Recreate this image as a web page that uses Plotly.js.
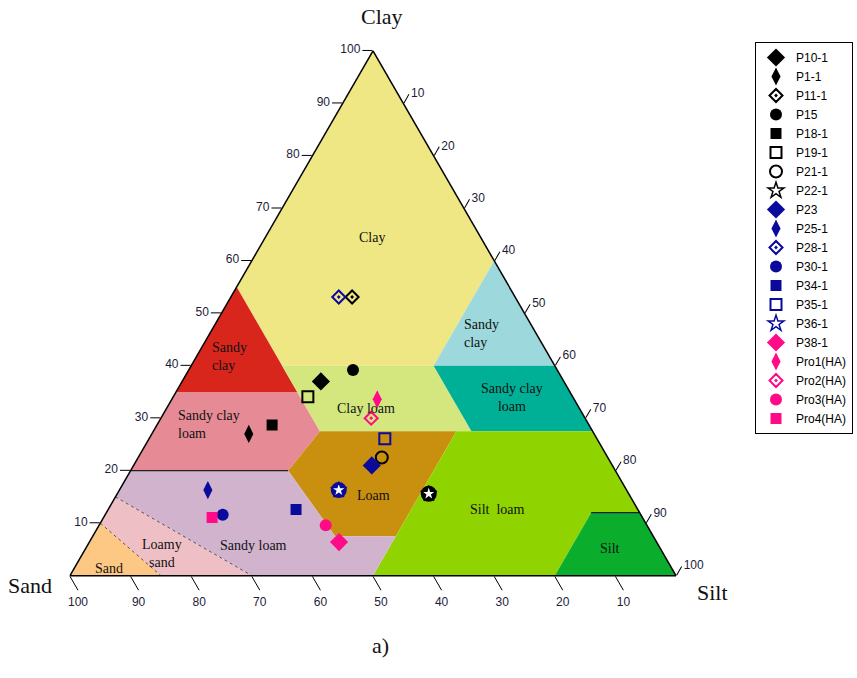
<!DOCTYPE html>
<html><head><meta charset="utf-8">
<script src="https://cdn.plot.ly/plotly-3.0.1.min.js"></script>
<style>html,body{margin:0;padding:0;background:#fff}#chart{width:857px;height:678px}</style>
</head><body><div id="chart"></div>
<script>
// ---- sample data (percent) ----
const samples = ['P10-1','P1-1','P11-1','P15','P18-1','P19-1','P21-1','P22-1','P23','P25-1','P28-1','P30-1','P34-1','P35-1','P36-1','P38-1','Pro1(HA)','Pro2(HA)','Pro3(HA)','Pro4(HA)'];
const clay = [37.0, 27.0, 53.1, 39.2, 28.7, 34.1, 22.5, 15.6, 21.0, 16.3, 53.1, 11.6, 12.6, 26.1, 16.3, 6.4, 33.6, 30.0, 9.6, 11.1];
const sand = [40.1, 57.0, 26.9, 33.7, 52.3, 43.7, 37.3, 33.0, 39.7, 69.1, 29.1, 69.0, 56.4, 35.0, 47.5, 52.4, 32.5, 35.3, 53.0, 71.0];
const silt = [22.9, 16.0, 20.0, 27.1, 19.0, 22.2, 40.2, 51.4, 39.3, 14.6, 17.8, 19.4, 31.0, 38.9, 36.2, 41.2, 33.9, 34.7, 37.4, 17.9];

// ---- texture classes: vertices [clay, sand, silt] ----
const regionNames = ['Clay','Sandy clay','Silty clay','Sandy clay loam','Clay loam','Silty clay loam','Loam','Silt loam','Silt','Sandy loam','Loamy sand','Sand'];
const regionVertices = [
  [[100,0,0],[55,45,0],[40,45,15],[40,20,40],[60,0,40]],
  [[55,45,0],[35,65,0],[35,45,20],[40,45,15]],
  [[60,0,40],[40,20,40],[40,0,60]],
  [[35,65,0],[20,80,0],[20,54,26],[27.5,45,27.5],[35,45,20]],
  [[40,45,15],[27.5,45,27.5],[27.5,20,52.5],[40,20,40]],
  [[40,20,40],[27.5,20,52.5],[27.5,0,72.5],[40,0,60]],
  [[27.5,45,27.5],[20,54,26],[7.5,52.5,40],[7.5,42.5,50],[27.5,22.5,50]],
  [[27.5,22.5,50],[0,50,50],[0,20,80],[12,8,80],[12,0,88],[27.5,0,72.5]],
  [[12,8,80],[0,20,80],[0,0,100],[12,0,88]],
  [[20,80,0],[20,54,26],[7.5,52.5,40],[7.5,42.5,50],[0,50,50],[0,70,30],[15,85,0]],
  [[15,85,0],[0,70,30],[0,85,15],[10,90,0]],
  [[10,90,0],[0,85,15],[0,100,0]]
];
// label texts as printed in the figure
const regionLabels = ['Clay','Sandy<br>clay','Sandy<br>clay','Sandy clay<br>loam','Clay loam','Sandy clay<br>loam','Loam','Silt  loam','Silt','Sandy loam','Loamy<br>sand','Sand'];
// boundary lines [clay, sand, silt]
const solidLines = [ [[20,80,0],[20,54,26]], [[12,8,80],[12,0,88]] ];
const dashedLines = [ [[10,90,0],[0,85,15]], [[15,85,0],[0,70,30]] ];
// axis titles
const axisTitles = ['Clay','Sand','Silt'];
const caption = 'a)';

const regionColors = ['#efe784','#d9261c','#9dd8dc','#e68b95','#d4e77f','#00b096','#c8900e','#8fd400','#0aad2c','#d1b3cd','#efbfc6','#fdc784'];
const labelPx = [[357,238,'left'],[210,356,'left'],[462,333,'left'],[176,424,'left'],[366,408,'center'],[512,398,'center'],[373,495,'center'],[497,510,'center'],[610,548,'center'],[253,545,'center'],[162,553,'center'],[109,568,'center']];

const symbols = ['diamond','diamond-tall','diamond-open-dot','circle','square','square-open','circle-open','star','diamond','diamond-tall','diamond-open-dot','circle','square','square-open','star','diamond','diamond-tall','diamond-open-dot','circle','square'];
const sizes =   [14, 13, 10, 12, 11, 11, 12, 12, 14, 13, 10, 12, 11, 11, 12, 14, 13, 10, 12, 11];
const BLACK = '#000000', NAVY = '#0a0a9c', PINK = '#ff0a87';
const colors = [BLACK,BLACK,BLACK,BLACK,BLACK,BLACK,BLACK,BLACK,NAVY,NAVY,NAVY,NAVY,NAVY,NAVY,NAVY,PINK,PINK,PINK,PINK,PINK];

const W = 857, H = 678;
const traces = [];
regionVertices.forEach((v, i) => {
  const pts = v.concat([v[0]]);
  traces.push({type:'scatterternary', mode:'lines', fill:'toself', fillcolor:regionColors[i],
    a: pts.map(p=>p[0]), b: pts.map(p=>p[1]), c: pts.map(p=>p[2]),
    line:{width:0, color:regionColors[i]}, showlegend:false, hoverinfo:'skip', name:regionNames[i]});
});
solidLines.forEach(l => traces.push({type:'scatterternary', mode:'lines', a:l.map(p=>p[0]), b:l.map(p=>p[1]), c:l.map(p=>p[2]), line:{color:'#222', width:1.2}, showlegend:false, hoverinfo:'skip'}));
dashedLines.forEach(l => traces.push({type:'scatterternary', mode:'lines', a:l.map(p=>p[0]), b:l.map(p=>p[1]), c:l.map(p=>p[2]), line:{color:'#555', width:1, dash:'dot'}, showlegend:false, hoverinfo:'skip'}));

samples.forEach((s, i) => {
  const isStar = symbols[i] === 'star';
  const marker = {symbol: symbols[i], size: sizes[i], color: colors[i], line:{width: symbols[i].indexOf('open')>=0 ? 2 : 0, color: colors[i]}};
  if (isStar) { marker.color = '#ffffff'; marker.line = {width: 1.5, color: colors[i]}; }
  if (isStar) traces.push({type:'scatterternary', mode:'markers', legendgroup:s, showlegend:false, a:[clay[i]], b:[sand[i]], c:[silt[i]],
     marker:{symbol:'circle', size:16, color:colors[i]}, hoverinfo:'skip'});
  traces.push({type:'scatterternary', mode:'markers', name:s, legendgroup:s, a:[clay[i]], b:[sand[i]], c:[silt[i]], marker:marker, hoverinfo:'name'});
});

const tickVals = [10,20,30,40,50,60,70,80,90,100];
const tickFont = {family:'Liberation Sans, Arial, sans-serif', size:12, color:'#1c1c3a'};
const serif = 'Liberation Serif, Times New Roman, serif';
function ax(len){
  return {title:{text:''}, min:0, tickmode:'array', tickvals:tickVals, ticks:'outside', ticklen:len, tickwidth:1, tickcolor:'#000',
    showline:true, linecolor:'#000', linewidth:1.5, showgrid:false, tickfont:tickFont};
}

const annotations = labelPx.map((p, i) => ({xref:'paper', yref:'paper', x:p[0]/W, y:1-p[1]/H, xanchor:p[2], yanchor:'middle',
  text:regionLabels[i], showarrow:false, align:p[2], font:{family:serif, size:14, color:'#111'}}));
const titlePx = [[382,17],[30,585],[712,592]];
axisTitles.forEach((t, i) => annotations.push({xref:'paper', yref:'paper', x:titlePx[i][0]/W, y:1-titlePx[i][1]/H, xanchor:'center', yanchor:'middle',
  text:t, showarrow:false, font:{family:serif, size:22, color:'#111'}}));
annotations.push({xref:'paper', yref:'paper', x:380/W, y:1-660/H, text:caption, showarrow:false, font:{family:serif, size:22, color:'#111'}});

const layout = {
  width:W, height:H, margin:{l:0,r:0,t:0,b:0}, paper_bgcolor:'#fff', showlegend:true,
  ternary:{sum:100, domain:{x:[70/W, 676/W], y:[0.148, 0.928]}, bgcolor:'rgba(0,0,0,0)',
    aaxis:ax(10), baxis:ax(16), caxis:ax(10)},
  legend:{x:755/W, y:1-42/H, xanchor:'left', yanchor:'top', bgcolor:'#fff', bordercolor:'#000', borderwidth:1,
    font:{family:'Liberation Sans, Arial, sans-serif', size:12, color:'#000'}, tracegroupgap:0, itemwidth:30},
  annotations: annotations
};
Plotly.newPlot('chart', traces, layout, {displayModeBar:false, staticPlot:true});
</script></body></html>
